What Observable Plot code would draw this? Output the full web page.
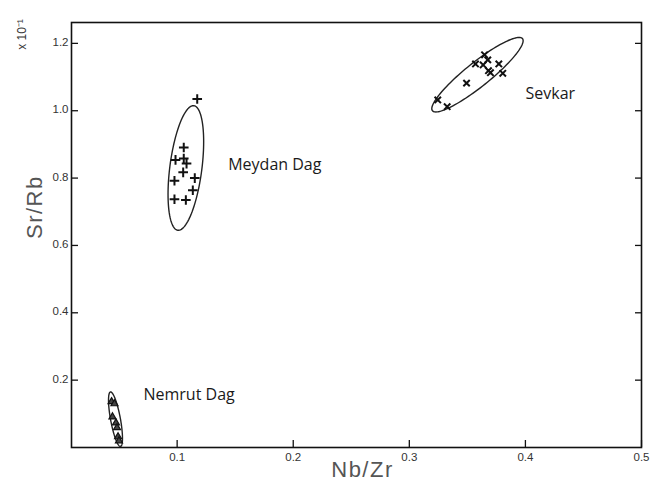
<!DOCTYPE html>
<html>
<head>
<meta charset="utf-8">
<script src="https://cdn.jsdelivr.net/npm/d3@7"></script>
<script src="https://cdn.jsdelivr.net/npm/@observablehq/plot@0.6"></script>
<style>
  html, body { margin: 0; padding: 0; background: #fff; }
  .title-text text { letter-spacing: 1.5px; }
</style>
</head>
<body>
<div id="chart"></div>
<script>
// ---- data ----
const meydanX = [0.1173, 0.1057, 0.0986, 0.1057, 0.1081, 0.1052, 0.0977, 0.1152, 0.1135, 0.0977, 0.1075];
const meydanY = [1.035, 0.891, 0.854, 0.858, 0.843, 0.817, 0.792, 0.800, 0.764, 0.737, 0.735];

const sevkarX = [0.3648, 0.3570, 0.3636, 0.3676, 0.3771, 0.3682, 0.3699, 0.3805, 0.3493, 0.3245, 0.3326];
const sevkarY = [1.166, 1.139, 1.136, 1.151, 1.139, 1.119, 1.113, 1.111, 1.082, 1.032, 1.012];

const nemrutX = [0.0435, 0.0460, 0.0443, 0.0473, 0.0482, 0.0491, 0.0499];
const nemrutY = [0.136, 0.130, 0.091, 0.073, 0.059, 0.032, 0.020];

// ellipse: centre, end of major semi-axis, end of minor semi-axis (data units)
const ellipseNames = ["Nemrut Dag", "Meydan Dag", "Sevkar"];
const ellipseCx = [0.0469, 0.1075, 0.3587];
const ellipseCy = [0.084, 0.830, 1.107];
const ellipseAx = [0.0426, 0.1144, 0.3975];
const ellipseAy = [0.165, 1.015, 1.214];
const ellipseBx = [0.0511, 0.1212, 0.3652];
const ellipseBy = [0.086, 0.824, 1.079];

const labelText = ["Nemrut Dag", "Meydan Dag", "Sevkar"];
const labelX = [0.071, 0.144, 0.4001];
const labelY = [0.157, 0.839, 1.050];

const xTicks = [0.1, 0.2, 0.3, 0.4, 0.5];
const yTicks = [0.2, 0.4, 0.6, 0.8, 1.0, 1.2];

// ---- build tables ----
const pts = (xs, ys) => xs.map((x, i) => ({x, y: ys[i]}));
const meydan = pts(meydanX, meydanY);
const sevkar = pts(sevkarX, sevkarY);
const nemrut = pts(nemrutX, nemrutY);

const ellipses = [];
ellipseNames.forEach((name, k) => {
  const cx = ellipseCx[k], cy = ellipseCy[k];
  const ux = ellipseAx[k] - cx, uy = ellipseAy[k] - cy;
  const vx = ellipseBx[k] - cx, vy = ellipseBy[k] - cy;
  d3.range(0, 361, 3).forEach(deg => {
    const t = deg * Math.PI / 180;
    ellipses.push({name, x: cx + Math.cos(t) * ux + Math.sin(t) * vx, y: cy + Math.cos(t) * uy + Math.sin(t) * vy});
  });
});
const labels = labelText.map((t, i) => ({t, x: labelX[i], y: labelY[i]}));

const chart = Plot.plot({
  width: 660,
  height: 490,
  marginLeft: 71,
  marginRight: 19,
  marginTop: 22,
  marginBottom: 43,
  style: {fontFamily: "'Liberation Sans', Arial, sans-serif", background: "#fff", color: "#333"},
  x: {domain: [0.009, 0.5], axis: null},
  y: {domain: [0, 1.262], axis: null},
  marks: [
    // inward ticks
    Plot.axisX(xTicks, {anchor: "bottom", tickSize: -7, tickFormat: () => "", label: null, stroke: "#111", strokeWidth: 1.3}),
    Plot.axisY(yTicks, {anchor: "left", tickSize: -7, tickFormat: () => "", label: null, stroke: "#111", strokeWidth: 1.3}),
    Plot.axisY(yTicks, {anchor: "right", tickSize: -7, tickFormat: () => "", label: null, stroke: "#111", strokeWidth: 1.3}),
    // tick labels
    Plot.axisX(xTicks, {anchor: "bottom", tickSize: 0, tickPadding: 5, tickFormat: d3.format(".1f"), fontSize: 11.5, fill: "#333", label: null}),
    Plot.axisY(yTicks, {anchor: "left", tickSize: 0, tickPadding: 3, tickFormat: d3.format(".1f"), fontSize: 11.5, fill: "#333", label: null, dy: -1}),
    Plot.frame({stroke: "#111", strokeWidth: 1.6}),
    // ellipses
    Plot.line(ellipses, {x: "x", y: "y", z: "name", stroke: "#222", strokeWidth: 1.4, curve: "linear", clip: true}),
    // points
    Plot.dot(meydan, {x: "x", y: "y", symbol: "plus", r: 3.2, stroke: "#111", strokeWidth: 2}),
    Plot.dot(sevkar, {x: "x", y: "y", symbol: "times", r: 3, stroke: "#111", strokeWidth: 2}),
    Plot.dot(nemrut, {x: "x", y: "y", symbol: "triangle", r: 2.6, stroke: "#111", fill: "#444", strokeWidth: 1.2}),
    // annotations
    Plot.text(labels, {x: "x", y: "y", text: "t", textAnchor: "start", lineAnchor: "middle", fontSize: 16, fill: "#1a1a1a", fontFamily: "'Open Sans', 'Noto Sans', sans-serif"}),
    // axis titles
    Plot.text(["Nb/Zr"], {frameAnchor: "bottom", dx: 6, dy: 14, lineAnchor: "top", fontSize: 22, fill: "#555", text: d => d, className: "title-text"}),
    Plot.text(["Sr/Rb"], {frameAnchor: "left", dx: -37, dy: 4, rotate: -90, fontSize: 22, fill: "#555", text: d => d, className: "title-text"}),
    Plot.text(["x 10\u207B\u00B9"], {frameAnchor: "top-left", dx: -54, dy: 12, rotate: -90, fontSize: 12, fill: "#333", textAnchor: "middle", text: d => d})
  ]
});
document.getElementById("chart").appendChild(chart);
</script>
</body>
</html>
